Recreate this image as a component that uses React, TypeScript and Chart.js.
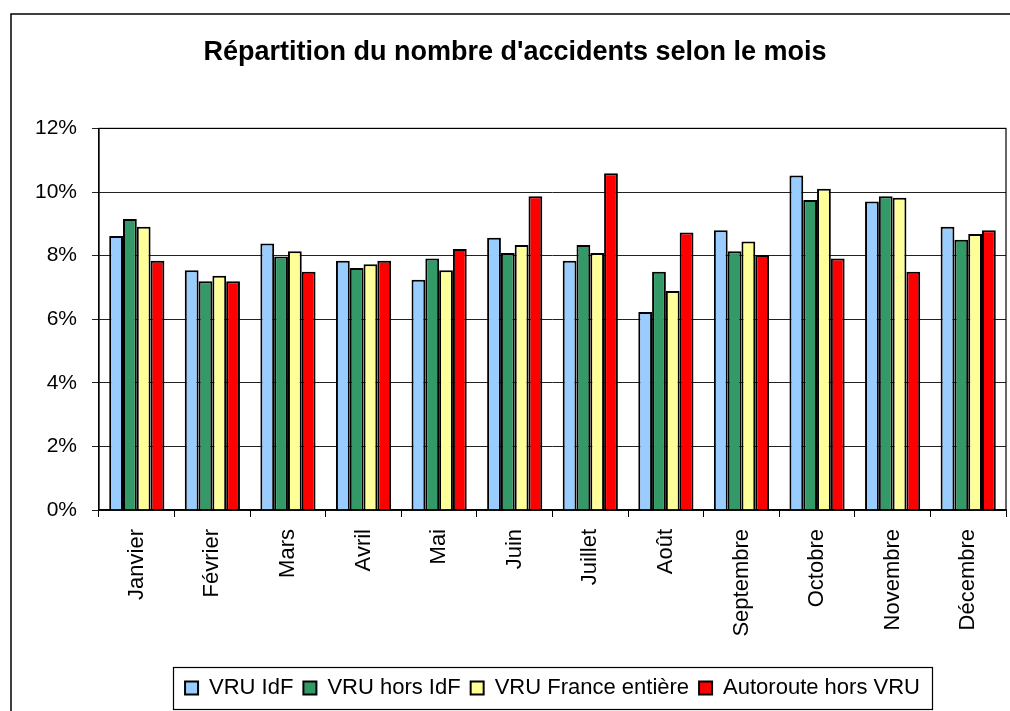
import React, { useEffect, useRef } from "react";
import { Chart, registerables } from "chart.js";

Chart.register(...registerables);

const months = ["Janvier", "Février", "Mars", "Avril", "Mai", "Juin", "Juillet", "Août", "Septembre", "Octobre", "Novembre", "Décembre"];
const vruIdf = [8.62, 7.54, 8.38, 7.84, 7.24, 8.56, 7.84, 6.23, 8.80, 10.52, 9.70, 8.91];
const vruHorsIdf = [9.15, 7.19, 7.97, 7.61, 7.91, 8.08, 8.33, 7.49, 8.14, 9.75, 9.87, 8.50];
const vruFrance = [8.91, 7.37, 8.14, 7.73, 7.54, 8.33, 8.08, 6.89, 8.44, 10.10, 9.82, 8.68];
const autoroute = [7.84, 7.19, 7.49, 7.84, 8.21, 9.87, 10.59, 8.73, 8.02, 7.91, 7.49, 8.80];
const seriesNames = ["VRU IdF", "VRU hors IdF", "VRU France entière", "Autoroute hors VRU"];
const seriesColors = ["#99CCFF", "#339966", "#FFFF99", "#FF0000"];
const titleText = "Répartition du nombre d'accidents selon le mois";

const FONT = "'Liberation Sans', Arial, sans-serif";
const LEGEND_PAD = 10;
const LEGEND_FONT = 22;

const framePlugin = {
  id: "frame",
  beforeDraw(chart: any) {
    const ctx = chart.ctx;
    ctx.save();
    ctx.fillStyle = "#fff";
    ctx.fillRect(0, 0, chart.width, chart.height);
    ctx.strokeStyle = "#000";
    ctx.lineWidth = 1.5;
    ctx.beginPath();
    ctx.moveTo(11, chart.height + 2);
    ctx.lineTo(11, 14);
    ctx.lineTo(chart.width + 2, 14);
    ctx.stroke();
    ctx.restore();
  },
  afterLayout(chart: any) {
    const lg = chart.legend;
    if (lg) {
      const w = lg.right - lg.left;
      const ca = chart.chartArea;
      const c = (ca.left + ca.right) / 2;
      lg.left = c - w / 2;
      lg.right = c + w / 2;
    }
    const tb = chart.titleBlock;
    if (tb) {
      tb.left += 12;
      tb.right += 12;
    }
  },
  afterDatasetsDraw(chart: any) {
    const ctx = chart.ctx;
    const ca = chart.chartArea;
    ctx.save();
    ctx.strokeStyle = "#000";
    ctx.lineWidth = 1.2;
    ctx.strokeRect(ca.left, ca.top, ca.right - ca.left, ca.bottom - ca.top);
    ctx.restore();
  },
  afterDraw(chart: any) {
    const lg = chart.legend;
    if (!lg || !lg.lineWidths) return;
    const itemsW = lg.lineWidths[0] - LEGEND_PAD;
    const c = (lg.left + lg.right) / 2;
    const top = lg.top + LEGEND_PAD;
    const ctx = chart.ctx;
    ctx.save();
    ctx.strokeStyle = "#000";
    ctx.lineWidth = 1.2;
    ctx.strokeRect(Math.round(c - itemsW / 2 - 12) + 0.5, Math.round(top - 10) + 0.5, Math.round(itemsW + 24), LEGEND_FONT + 20);
    ctx.restore();
  },
};

export default function App() {
  const ref = useRef<HTMLCanvasElement | null>(null);
  useEffect(() => {
    if (!ref.current) return;
    const datasets = [vruIdf, vruHorsIdf, vruFrance, autoroute].map((d, i) => ({
      label: seriesNames[i],
      data: d,
      backgroundColor: seriesColors[i],
      borderColor: "#000",
      borderWidth: 2,
      barPercentage: 1,
      categoryPercentage: 0.73,
    }));
    const chart = new Chart(ref.current, {
      type: "bar",
      data: { labels: months, datasets },
      plugins: [framePlugin],
      options: {
        animation: false,
        responsive: false,
        maintainAspectRatio: false,
        layout: { padding: { left: 0, right: 4, top: 0, bottom: 2 } },
        plugins: {
          title: {
            display: true,
            text: titleText,
            color: "#000",
            font: { family: FONT, size: 27, weight: "bold" },
            padding: { top: 36, bottom: 60 },
          },
          legend: {
            position: "bottom",
            labels: {
              color: "#000",
              font: { family: FONT, size: LEGEND_FONT },
              boxWidth: 13,
              boxHeight: 13,
              padding: LEGEND_PAD,
            },
          },
          tooltip: { enabled: false },
        },
        scales: {
          x: {
            offset: true,
            grid: { display: true, drawOnChartArea: false, drawTicks: true, tickLength: 7, color: "#000", offset: true },
            border: { color: "#000", width: 1.2 },
            ticks: { color: "#000", font: { family: FONT, size: 22 }, minRotation: 90, maxRotation: 90, padding: 12, autoSkip: false },
            afterFit: (s: any) => { s.height = 157; },
          },
          y: {
            min: 0,
            max: 12,
            grid: { color: "#222", lineWidth: 1, tickLength: 7, drawTicks: true },
            border: { color: "#000", width: 1.2 },
            ticks: { stepSize: 2, color: "#000", font: { family: FONT, size: 21 }, padding: 15, callback: (v: any) => v + "%" },
            afterFit: (s: any) => { s.width = 99; },
          },
        },
      },
    });
    return () => chart.destroy();
  }, []);
  return (
    <div style={{ position: "absolute", left: 0, top: 0, width: 1010, height: 711, background: "#fff" }}>
      <canvas ref={ref} width={1010} height={711} style={{ width: 1010, height: 711, display: "block" }} />
    </div>
  );
}
